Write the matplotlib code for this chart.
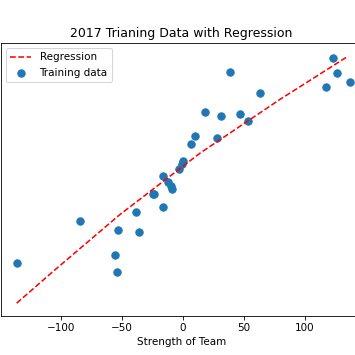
import numpy as np
import matplotlib
matplotlib.use("Agg")
import matplotlib.pyplot as plt

# Training points (strength of team vs. outcome, y units arbitrary 0-100)
train_x = [123.3, 126.3, 137.3, 117.6, 38.6, 63.1, 18.1, 31.2, 46.6, 53.4,
           28.2, 9.9, 6.3, -0.2, -1.1, -3.0, -16.2, -12.6, -9.9, -9.0,
           -24.9, -23.8, -16.7, -38.6, -84.7, -53.2, -36.4, -56.1, -54.5, -136.2]
train_y = [94.6, 88.9, 85.6, 83.8, 89.5, 81.6, 74.6, 73.3, 74.0, 71.3,
           65.3, 65.9, 63.1, 56.8, 55.6, 53.8, 51.3, 49.1, 47.6, 46.4,
           44.6, 44.6, 40.0, 37.9, 34.8, 31.4, 30.8, 22.1, 15.9, 19.4]

# Regression curve
reg_x = [-136.7, -106.6, -51.8, 14.0, 79.7, 135.9]
reg_y = [4.6, 16.3, 37.1, 59.6, 79.3, 95.2]

DPI = 75
fig = plt.figure(figsize=(355 / DPI, 355 / DPI), dpi=DPI)
ax = fig.add_axes([1 / 355, 39.3 / 355, 361 / 355, 272.7 / 355])

ax.plot(reg_x, reg_y, "r--", label="Regression")
ax.scatter(train_x, train_y, color="#1f77b4", s=50, label="Training data")

ax.set_xlim(-149.6, 147.2)
ax.set_ylim(0, 100)
ax.set_xticks([-100, -50, 0, 50, 100])
ax.set_yticks([])
ax.set_xlabel("Strength of Team")
ax.set_title("2017 Trianing Data with Regression")
ax.legend(loc="upper left")

fig.savefig("out.png", dpi=DPI)
